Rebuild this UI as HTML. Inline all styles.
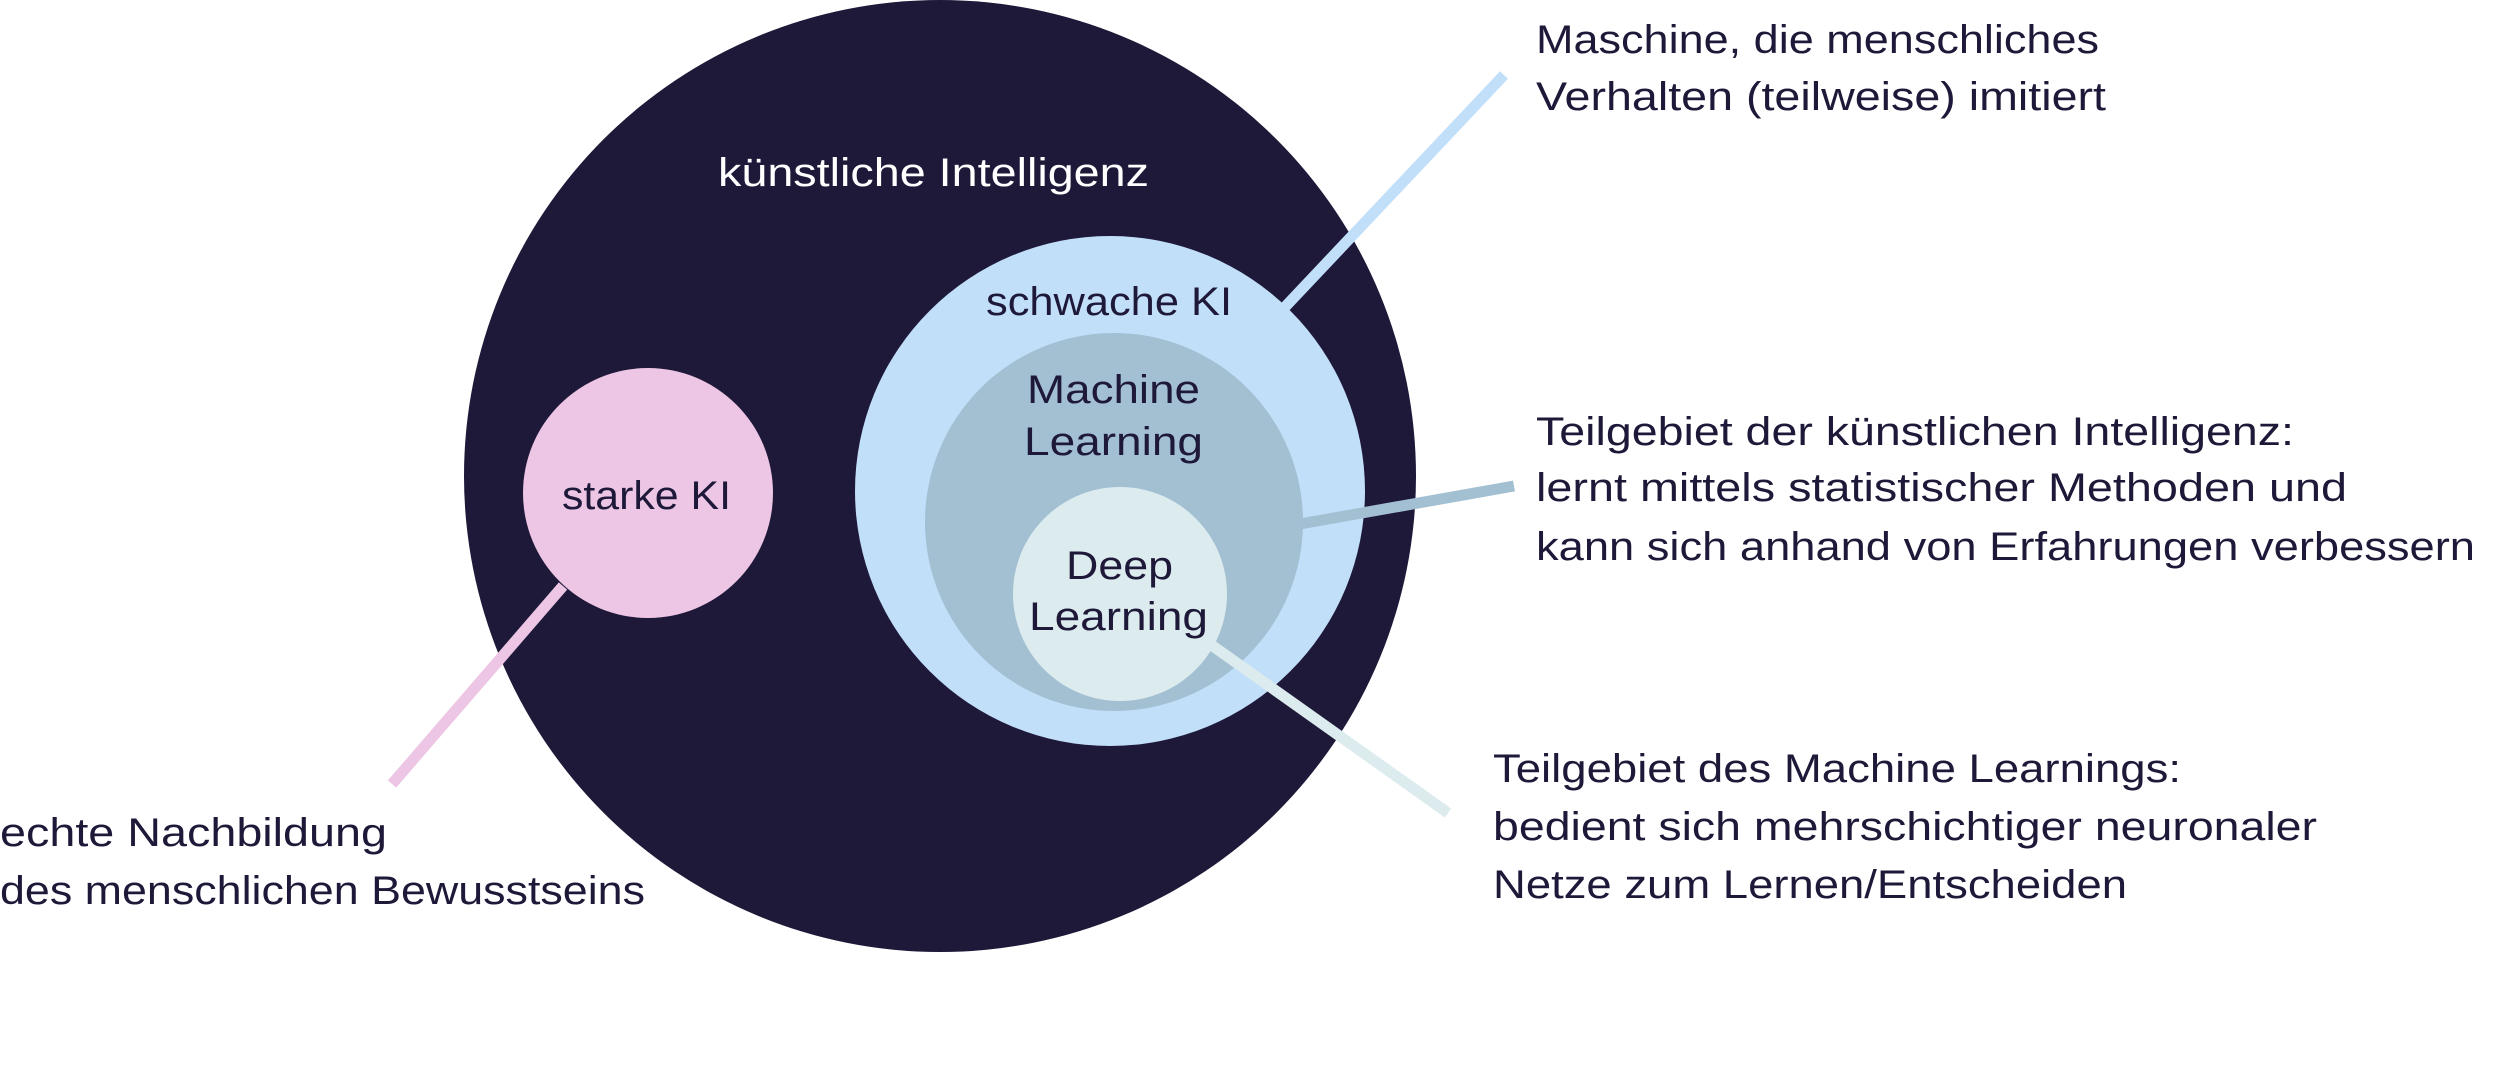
<!DOCTYPE html>
<html><head><meta charset="utf-8"><style>
html,body{margin:0;padding:0;background:#fff;width:2500px;height:1078px;overflow:hidden}
svg text{font-family:"Liberation Sans",sans-serif;font-size:40px;fill:#1e1839}
</style></head><body>
<svg width="2500" height="1078" viewBox="0 0 2500 1078" xmlns="http://www.w3.org/2000/svg">
<circle cx="940" cy="476" r="476" fill="#1e1839"/>
<line x1="1285" y1="307" x2="1504" y2="75" stroke="#c2dffa" stroke-width="11"/>
<circle cx="1110" cy="491" r="255" fill="#c2dffa"/>
<line x1="1300" y1="524" x2="1514" y2="486" stroke="#a3bfd2" stroke-width="11"/>
<circle cx="1114" cy="522" r="189" fill="#a3bfd2"/>
<line x1="1210" y1="644" x2="1448" y2="813" stroke="#dcebee" stroke-width="11"/>
<circle cx="1120" cy="594" r="107" fill="#dcebee"/>
<line x1="563" y1="586" x2="392" y2="784" stroke="#ecc6e4" stroke-width="11"/>
<circle cx="648" cy="493" r="125" fill="#ecc6e4"/>

<text x="718" y="186" textLength="431" lengthAdjust="spacingAndGlyphs" style="fill:#fff">künstliche Intelligenz</text>
<text x="986" y="315" textLength="246" lengthAdjust="spacingAndGlyphs">schwache KI</text>
<text x="1027" y="403" textLength="173" lengthAdjust="spacingAndGlyphs">Machine</text>
<text x="1024" y="455" textLength="179" lengthAdjust="spacingAndGlyphs">Learning</text>
<text x="1066" y="579" textLength="107" lengthAdjust="spacingAndGlyphs">Deep</text>
<text x="1029" y="630" textLength="179" lengthAdjust="spacingAndGlyphs">Learning</text>
<text x="562" y="509" textLength="169" lengthAdjust="spacingAndGlyphs">starke KI</text>

<text x="1536" y="53" textLength="563" lengthAdjust="spacingAndGlyphs">Maschine, die menschliches</text>
<text x="1536" y="110" textLength="570" lengthAdjust="spacingAndGlyphs">Verhalten (teilweise) imitiert</text>

<text x="1536" y="445" textLength="758" lengthAdjust="spacingAndGlyphs">Teilgebiet der künstlichen Intelligenz:</text>
<text x="1536" y="501" textLength="811" lengthAdjust="spacingAndGlyphs">lernt mittels statistischer Methoden und</text>
<text x="1536" y="560" textLength="939" lengthAdjust="spacingAndGlyphs">kann sich anhand von Erfahrungen verbessern</text>

<text x="1493" y="782" textLength="688" lengthAdjust="spacingAndGlyphs">Teilgebiet des Machine Learnings:</text>
<text x="1493" y="840" textLength="824" lengthAdjust="spacingAndGlyphs">bedient sich mehrschichtiger neuronaler</text>
<text x="1493" y="898" textLength="634" lengthAdjust="spacingAndGlyphs">Netze zum Lernen/Entscheiden</text>

<text x="0" y="846" textLength="387" lengthAdjust="spacingAndGlyphs">echte Nachbildung</text>
<text x="0" y="904" textLength="645" lengthAdjust="spacingAndGlyphs">des menschlichen Bewusstseins</text>
</svg>
</body></html>
